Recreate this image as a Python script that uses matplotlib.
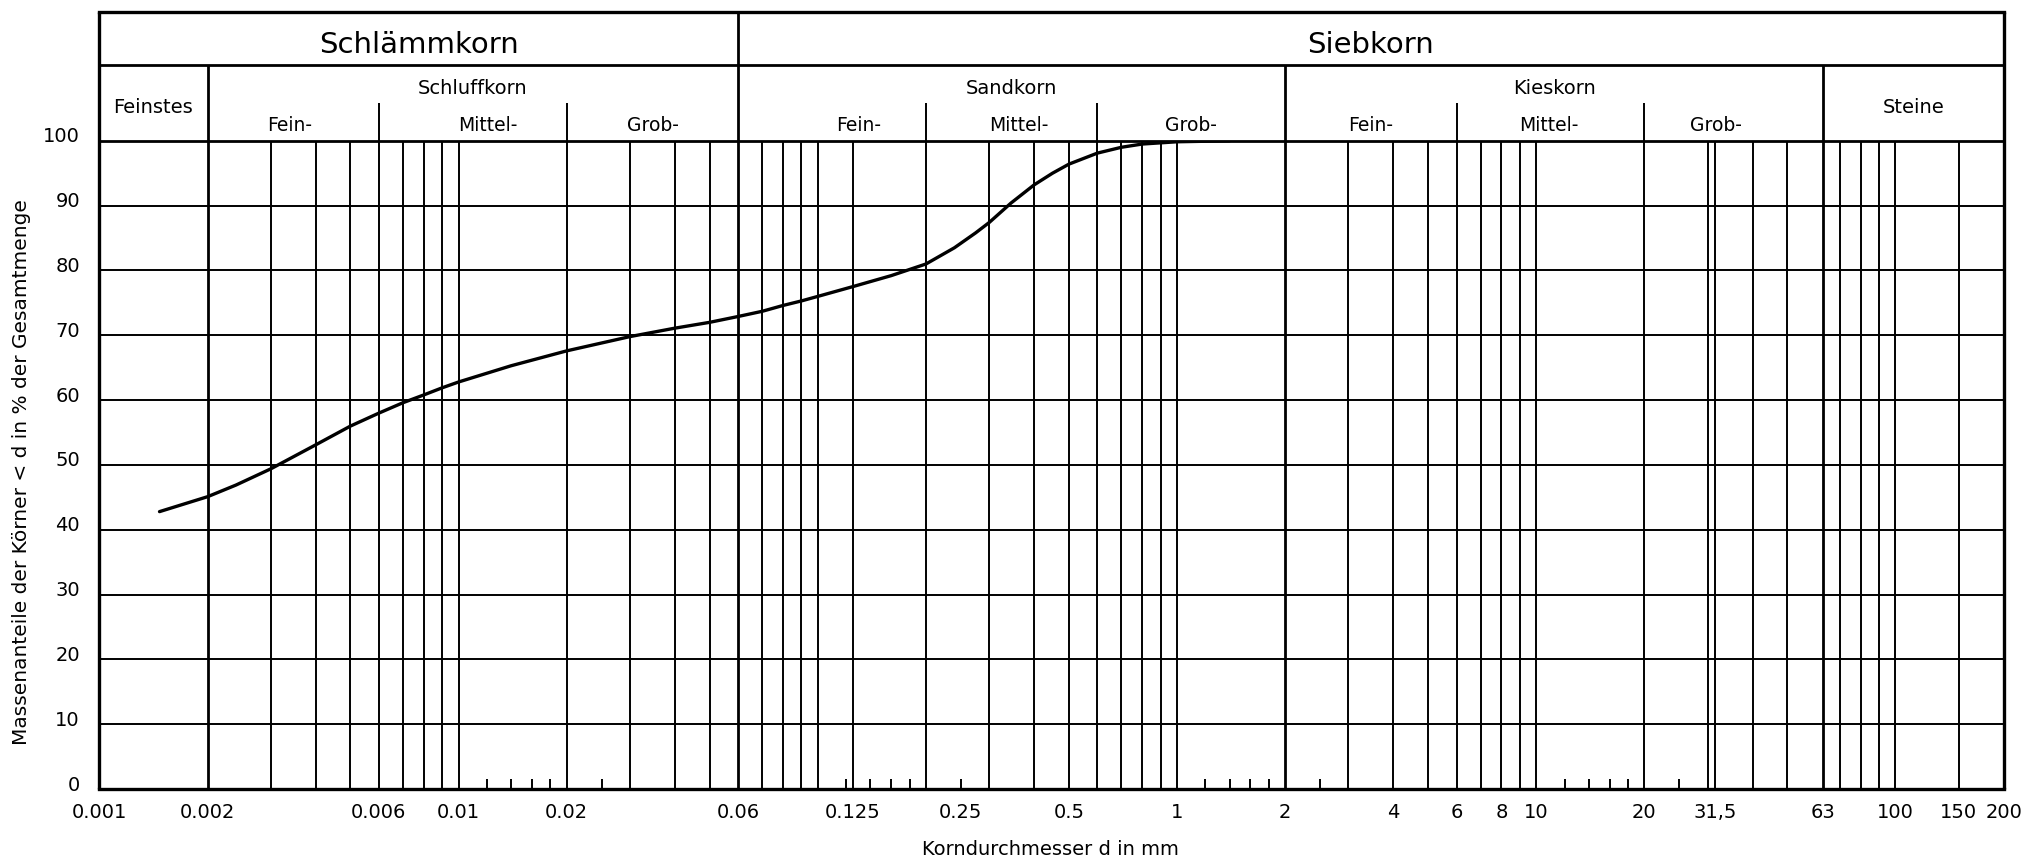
import matplotlib
matplotlib.use("Agg")
import matplotlib.pyplot as plt
import matplotlib.transforms as mtransforms
from matplotlib.ticker import NullLocator

# grading curve: grain size (mm) vs. mass passing (%)
grain_mm = [0.00147, 0.002, 0.0024, 0.003, 0.004, 0.005, 0.006, 0.007, 0.008,
            0.009, 0.01, 0.014, 0.02, 0.03, 0.04, 0.05, 0.06, 0.07, 0.08, 0.09,
            0.1, 0.125, 0.16, 0.2, 0.24, 0.275, 0.3, 0.345, 0.4, 0.45, 0.5,
            0.6, 0.7, 0.8, 1.0, 1.4]
passing_pct = [42.8, 45.1, 46.9, 49.4, 53.1, 56.0, 58.0, 59.6, 60.8,
               61.9, 62.8, 65.3, 67.6, 69.8, 71.1, 72.0, 72.9, 73.7, 74.6, 75.3,
               76.0, 77.5, 79.2, 81.0, 83.5, 85.8, 87.4, 90.4, 93.2, 95.0, 96.4,
               98.1, 99.0, 99.5, 99.85, 100.0]

D_MIN, D_MAX = 0.001, 200

# sieve grid
grid_lines = [0.003, 0.004, 0.005, 0.006, 0.007, 0.008, 0.009, 0.01,
              0.02, 0.03, 0.04, 0.05, 0.07, 0.08, 0.09, 0.1, 0.125,
              0.2, 0.3, 0.4, 0.5, 0.6, 0.7, 0.8, 0.9, 1,
              3, 4, 5, 6, 7, 8, 9, 10, 20, 30, 31.5, 40, 50,
              70, 80, 90, 100, 150]
major_lines = [0.002, 0.06, 2, 63]
short_ticks = [0.012, 0.014, 0.016, 0.018, 0.025,
               0.12, 0.14, 0.16, 0.18, 0.25,
               1.2, 1.4, 1.6, 1.8, 2.5,
               12, 14, 16, 18, 25]
pct_lines = list(range(10, 100, 10))

tick_values = [0.001, 0.002, 0.006, 0.01, 0.02, 0.06, 0.125, 0.25, 0.5, 1, 2,
               4, 6, 8, 10, 20, 31.5, 63, 100, 150, 200]
tick_labels = ["0.001", "0.002", "0.006", "0.01", "0.02", "0.06", "0.125",
               "0.25", "0.5", "1", "2", "4", "6", "8", "10", "20", "31,5",
               "63", "100", "150", "200"]

# header classification
main_groups = [("Schlämmkorn", 0.001, 0.06), ("Siebkorn", 0.06, 200)]
soil_groups = [("Feinstes", 0.001, 0.002), ("Schluffkorn", 0.002, 0.06),
               ("Sandkorn", 0.06, 2), ("Kieskorn", 2, 63), ("Steine", 63, 200)]
sub_bounds = [0.006, 0.02, 0.2, 0.6, 6, 20]
sub_groups = [("Fein-", 0.002, 0.006, 0.48), ("Mittel-", 0.006, 0.02, 0.58),
              ("Grob-", 0.02, 0.06, 0.5),
              ("Fein-", 0.06, 0.2, 0.64), ("Mittel-", 0.2, 0.6, 0.54),
              ("Grob-", 0.6, 2, 0.5),
              ("Fein-", 2, 6, 0.5), ("Mittel-", 6, 20, 0.49),
              ("Grob-", 20, 63, 0.4)]

# header rows, in units of the percentage axis above 100
HEAD_TOP = 119.8
ROW_SPLIT = 111.75
SUB_START = 105.85

LW_GRID = 1.4
LW_MAJOR = 2.0
LW_FRAME = 2.4

plt.rcParams["font.family"] = ["DejaVu Sans"]

fig = plt.figure(figsize=(20.25, 8.61), dpi=100)
ax = fig.add_axes([0.04909, 0.08351, 0.94035, 0.75296])
ax.set_xscale("log")
ax.set_xlim(D_MIN, D_MAX)
ax.set_ylim(0, 100)
for s in ax.spines.values():
    s.set_visible(False)


def geo_mid(lo, hi, frac=0.5):
    return lo * (hi / lo) ** frac


def vlines(xs, y0, y1, lw):
    lc = ax.vlines(xs, y0, y1, colors="black", linewidth=lw)
    lc.set_clip_on(False)


def hline(y, lw):
    ax.plot([D_MIN, D_MAX], [y, y], color="black", linewidth=lw,
            clip_on=False, solid_capstyle="projecting")


# plot grid
for p in pct_lines:
    hline(p, LW_GRID)
vlines(grid_lines, 0, 100, LW_GRID)
vlines(major_lines[1:], 0, 100, LW_MAJOR)
vlines([0.002], 0, ROW_SPLIT, LW_MAJOR)
vlines(short_ticks, 0, 1.6, LW_GRID)

# header grid
vlines([0.06], 100, HEAD_TOP, LW_MAJOR)
vlines([2, 63], 100, ROW_SPLIT, LW_MAJOR)
vlines(sub_bounds, 100, SUB_START, LW_GRID)
hline(100, LW_MAJOR)
hline(ROW_SPLIT, LW_MAJOR)
hline(HEAD_TOP, LW_FRAME)
hline(0, LW_FRAME)
vlines([D_MIN, D_MAX], 0, HEAD_TOP, LW_FRAME)

for name, lo, hi in main_groups:
    ax.text(geo_mid(lo, hi), 114.8, name, ha="center", va="center",
            fontsize=21, clip_on=False)
for name, lo, hi in soil_groups:
    y = 108.0 if name.endswith("korn") else 105.1
    ax.text(geo_mid(lo, hi), y, name, ha="center", va="center",
            fontsize=14, clip_on=False)
for name, lo, hi, frac in sub_groups:
    ax.text(geo_mid(lo, hi, frac), 102.3, name, ha="center", va="center",
            fontsize=13.5, clip_on=False)

# grading curve
ax.plot(grain_mm, passing_pct, color="black", linewidth=2.4,
        solid_capstyle="round", solid_joinstyle="round", zorder=5)

ax.xaxis.set_minor_locator(NullLocator())
ax.yaxis.set_minor_locator(NullLocator())
ax.set_xticks(tick_values, tick_labels)
ax.set_yticks(range(0, 101, 10))
ax.tick_params(axis="both", length=0, labelsize=14)
ax.tick_params(axis="x", pad=10)
ax.tick_params(axis="y", pad=14)
lift = mtransforms.ScaledTranslation(0, 6 / 100, fig.dpi_scale_trans)
for lab in ax.get_yticklabels():
    lab.set_transform(lab.get_transform() + lift)

fig.text(0.0107, 0.452, "Massenanteile der Körner < d in % der Gesamtmenge",
         rotation=90, ha="center", va="center", fontsize=14.5)
fig.text(0.5185, 0.0128, "Korndurchmesser d in mm", ha="center",
         va="center", fontsize=14)

fig.savefig("out.png", dpi=100, facecolor="white")
